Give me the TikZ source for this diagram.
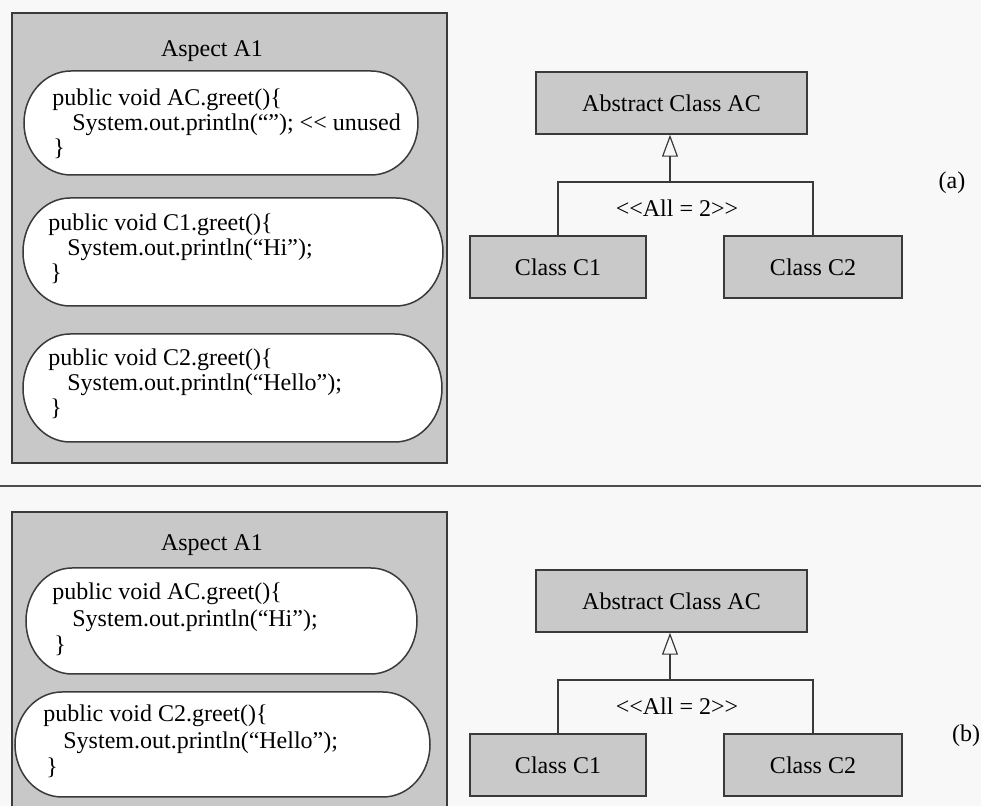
\documentclass[tikz,border=0pt]{standalone}
\usepackage{fontspec}
\setmainfont{Liberation Serif}
\usetikzlibrary{arrows.meta}

\definecolor{paper}{HTML}{F8F8F8}
\definecolor{panel}{HTML}{C8C8C8}
\definecolor{boxgray}{HTML}{C9C9C9}
\definecolor{ink}{HTML}{3A3A3A}

\tikzset{
  panelbox/.style={draw=ink, fill=panel, line width=0.75pt},
  pillbox/.style={draw=ink, fill=white, line width=0.75pt},
  classbox/.style={draw=ink, fill=boxgray, line width=0.75pt, inner sep=0pt,
    minimum height=31pt, font=\fontsize{12}{14}\selectfont},
  codeline/.style={anchor=base west, inner sep=0pt, font=\fontsize{12}{14}\selectfont},
  titletext/.style={anchor=base, inner sep=0pt, font=\fontsize{12}{14}\selectfont},
  txt/.style={inner sep=0pt, font=\fontsize{12}{14}\selectfont},
  link/.style={draw=ink, line width=0.6pt},
  gen/.style={-{Triangle[open, length=11pt, width=8pt]}},
  rule/.style={draw=ink!90, line width=1pt}
}

% rounded "pill" box with half-elliptic ends: x1 y1 x2 y2 end-radius
\newcommand\pillshape[5]{%
  \pgfmathsetmacro\pillXa{#1+#5}%
  \pgfmathsetmacro\pillXb{#3-#5}%
  \pgfmathsetmacro\pillYm{(#2+#4)/2}%
  \pgfmathsetmacro\pillKx{0.5523*#5}%
  \pgfmathsetmacro\pillKy{0.5523*(#4-#2)/2}%
  \draw[pillbox] (\pillXa,#2) -- (\pillXb,#2)
    .. controls (\pillXb+\pillKx,#2) and (#3,\pillYm-\pillKy) .. (#3,\pillYm)
    .. controls (#3,\pillYm+\pillKy) and (\pillXb+\pillKx,#4) .. (\pillXb,#4)
    -- (\pillXa,#4)
    .. controls (\pillXa-\pillKx,#4) and (#1,\pillYm+\pillKy) .. (#1,\pillYm)
    .. controls (#1,\pillYm-\pillKy) and (\pillXa-\pillKx,#2) .. (\pillXa,#2)
    -- cycle;}

\begin{document}
\begin{tikzpicture}[x=0.5pt, y=-0.5pt]
\clip (0,0) rectangle (981,806);
\fill[paper] (0,0) rectangle (981,806);

% ---------- part (a) ----------
\draw[panelbox] (12,13) rectangle (447,463);
\node[titletext] (titleA) at (212,57) {Aspect A1};

\pillshape{24}{71}{418}{175}{47}
\node[codeline] (a1l1) at (52,106) {public void AC.greet()\{};
\node[codeline] (a1l2) at (72,131) {System.out.println(“”); <\kern0pt< unused};
\node[codeline] (a1l3) at (53,156) {\}};

\pillshape{23}{198}{443}{306}{47}
\node[codeline] (a2l1) at (48,231) {public void C1.greet()\{};
\node[codeline] (a2l2) at (67,256) {System.out.println(“Hi”);};
\node[codeline] (a2l3) at (50,281) {\}};

\pillshape{23}{334}{442}{442}{47}
\node[codeline] (a3l1) at (48,366) {public void C2.greet()\{};
\node[codeline] (a3l2) at (67,391) {System.out.println(“Hello”);};
\node[codeline] (a3l3) at (50,416) {\}};

\node[classbox, minimum width=135.5pt] (acA) at (671.5,103) {Abstract Class AC};
\node[classbox, minimum width=88pt] (c1A) at (558,267) {Class C1};
\node[classbox, minimum width=89pt] (c2A) at (813,267) {Class C2};
\coordinate (jA) at (670,182);
\draw[link] (c1A.north) |- (jA) -| (c2A.north);
\draw[link, gen] (jA) -- (jA |- acA.south);
\node[txt] (stA) at (677,208) {<\kern0pt<All = 2>\kern0pt>};
\node[txt] (capA) at (952,183) {(a)};

% separator
\draw[rule] (0,486) -- (981,486);

% ---------- part (b) ----------
\draw[panelbox] (12,512) rectangle (447,830);
\node[titletext] (titleB) at (212,551) {Aspect A1};

\pillshape{26}{568}{417}{674}{46}
\node[codeline] (b1l1) at (52,600) {public void AC.greet()\{};
\node[codeline] (b1l2) at (72,627) {System.out.println(“Hi”);};
\node[codeline] (b1l3) at (54,653) {\}};

\pillshape{15}{692}{430}{797}{47}
\node[codeline] (b2l1) at (43,722) {public void C2.greet()\{};
\node[codeline] (b2l2) at (63,749) {System.out.println(“Hello”);};
\node[codeline] (b2l3) at (46,775) {\}};

\node[classbox, minimum width=135.5pt] (acB) at (671.5,601) {Abstract Class AC};
\node[classbox, minimum width=88pt] (c1B) at (558,765) {Class C1};
\node[classbox, minimum width=89pt] (c2B) at (813,765) {Class C2};
\coordinate (jB) at (670,680);
\draw[link] (c1B.north) |- (jB) -| (c2B.north);
\draw[link, gen] (jB) -- (jB |- acB.south);
\node[txt] (stB) at (677,706) {<\kern0pt<All = 2>\kern0pt>};
\node[txt] (capB) at (966,736) {(b)};
\end{tikzpicture}
\end{document}
